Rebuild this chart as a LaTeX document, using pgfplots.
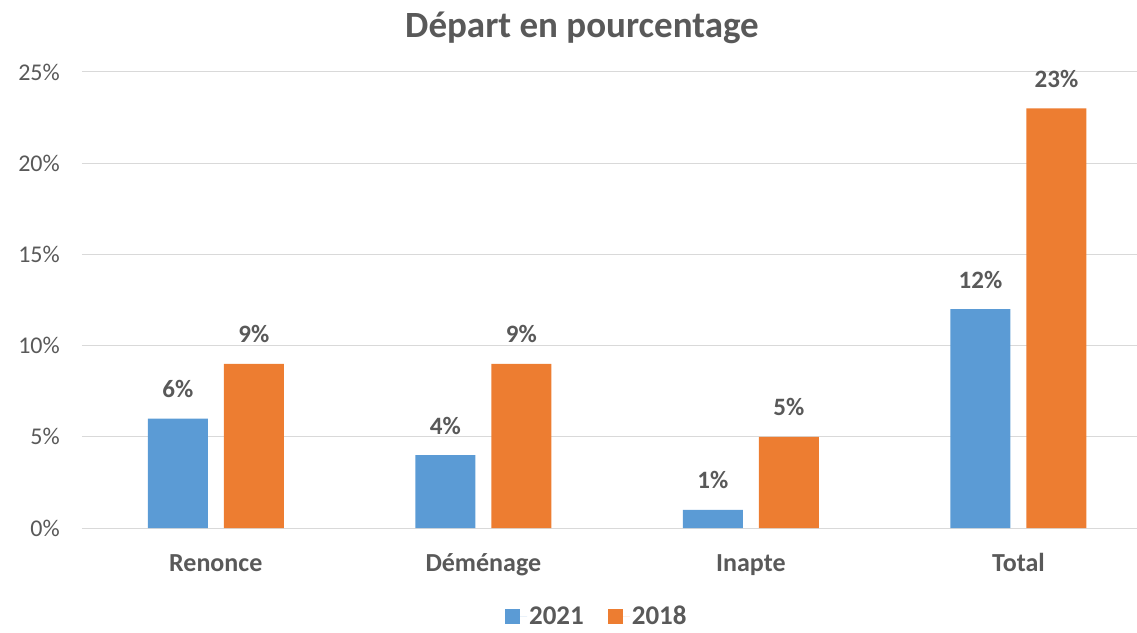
\documentclass[border=0pt]{standalone}
\usepackage{fontspec}
\setmainfont{Carlito}
\usepackage{pgfplots}
\pgfplotsset{compat=1.18}
\definecolor{cblue}{HTML}{5B9BD5}
\definecolor{corange}{HTML}{ED7D31}
\definecolor{ctext}{HTML}{595959}
\definecolor{cgrid}{HTML}{D9D9D9}
\begin{document}
\begin{tikzpicture}
\path[use as bounding box] (-82pt,-104pt) rectangle (1055pt,528pt);
\begin{axis}[at={(0pt,0pt)}, anchor=south west, scale only axis,
  width=1055pt, height=456pt,
  /pgf/number format/assume math mode=true,
  ybar=16pt, bar width=60pt,
  xmin=-0.5, xmax=3.443, ymin=0, ymax=25,
  xtick=data, xticklabels={Renonce,Déménage,Inapte,Total},
  ytick={0,5,10,15,20,25}, yticklabels={0\%,5\%,10\%,15\%,20\%,25\%},
  ymajorgrids, grid style={cgrid, line width=1pt},
  axis x line*=bottom, axis y line*=left,
  x axis line style={cgrid, line width=1pt, -},
  y axis line style={draw=none},
  major tick length=0pt,
  tick label style={font=\fontsize{24}{28}\selectfont, text=ctext},
  yticklabel style={anchor=east, inner sep=0pt, xshift=-22pt},
  xticklabel style={font=\fontsize{26}{30}\selectfont\bfseries, anchor=base, inner sep=0pt, yshift=-43pt},
  nodes near coords={\pgfmathprintnumber{\pgfplotspointmeta}\%},
  every node near coord/.append style={font=\fontsize{25}{30}\selectfont\bfseries, text=ctext, anchor=base, inner sep=0pt, yshift=21pt},
  legend style={at={(0.488,-0.193)}, anchor=center, draw=none, fill=none,
    legend columns=2, font=\fontsize{27}{32}\selectfont\bfseries, text=ctext,
    /tikz/every even column/.append style={column sep=22pt}},
  legend image code/.code={\fill[#1] (0pt,-7.5pt) rectangle (15pt,7.5pt); \path (0pt,0pt) -- (22pt,0pt);},
]
\addplot[fill=cblue, draw=none] coordinates {(0,6) (1,4) (2,1) (3,12)};
\addplot[fill=corange, draw=none] coordinates {(0,9) (1,9) (2,5) (3,23)};
\legend{2021,2018}
\end{axis}
\node[font=\fontsize{37}{44}\selectfont\bfseries, text=ctext] at (500pt,500pt) {Départ en pourcentage};
\end{tikzpicture}
\end{document}
